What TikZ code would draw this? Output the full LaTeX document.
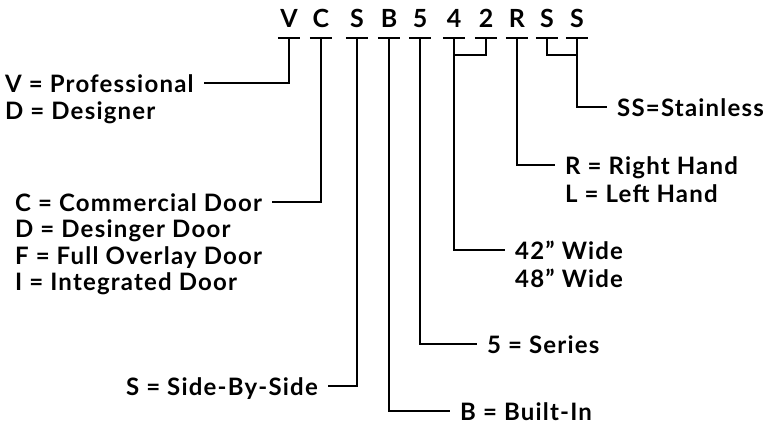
\documentclass[tikz,border=0pt]{standalone}
\usepackage{fontspec}
\setmainfont{Lato}
\newfontfamily\lblfont[LetterSpace=5]{Lato}
\usetikzlibrary{positioning}

\begin{document}
\begin{tikzpicture}[x=1pt,y=-1pt]
\tikzstyle{code}=[anchor=south, inner sep=0pt, minimum width=22pt, text height=18pt, text depth=10pt, font=\bfseries\fontsize{25}{30}\selectfont]
\tikzstyle{lbl}=[inner xsep=10pt, inner ysep=0pt, text height=18pt, text depth=0pt, font=\lblfont\bfseries\fontsize{24}{29}\selectfont]
\tikzstyle{wire}=[line width=2.2pt]
\useasboundingbox (0,0) rectangle (767,424);
% model code letters
\node[code] (v) at (289,38) {V};
\node[code] (c) at (321,38) {C};
\node[code] (s) at (357,38) {S};
\node[code] (b) at (389,38) {B};
\node[code] (five) at (420,38) {5};
\node[code] (four) at (454,38) {4};
\node[code] (two) at (486,38) {2};
\node[code] (r) at (517,38) {R};
\node[code] (sa) at (547,38) {S};
\node[code] (sb) at (577,38) {S};
% labels
\node[lbl,anchor=west] (pro) at (-5,83) {V = Professional};
\node[lbl,below=27pt of pro.west,anchor=west] (des) {D = Designer};
\node[lbl,anchor=west] (com) at (5,202) {C = Commercial Door};
\node[lbl,below=26.5pt of com.west,anchor=west] (ddoor) {D = Desinger Door};
\node[lbl,below=26.5pt of ddoor.west,anchor=west] (fdoor) {F = Full Overlay Door};
\node[lbl,below=26.5pt of fdoor.west,anchor=west] (idoor) {I = Integrated Door};
\node[lbl,anchor=east] (sbs) at (328,386) {S = Side-By-Side};
\node[lbl,anchor=west] (bin) at (450,411) {B = Built-In};
\node[lbl,anchor=west] (ser) at (477,344) {5 = Series};
\node[lbl,anchor=west] (w42) at (505,250) {42” Wide};
\node[lbl,below=28pt of w42.west,anchor=west] (w48) {48” Wide};
\node[lbl,anchor=west] (rh) at (555,165) {R = Right Hand};
\node[lbl,below=28pt of rh.west,anchor=west] (lh) {L = Left Hand};
\node[lbl,anchor=west] (sst) at (607,107) {SS=Stainless};
% bars under the letters
\draw[wire] (v.south west) -- (v.south east);
\draw[wire] (c.south west) -- (c.south east);
\draw[wire] (s.south west) -- (s.south east);
\draw[wire] (b.south west) -- (b.south east);
\draw[wire] (five.south west) -- (five.south east);
\draw[wire] (four.south west) -- (four.south east);
\draw[wire] (two.south west) -- (two.south east);
\draw[wire] (r.south west) -- (r.south east);
\draw[wire] (sa.south west) -- (sa.south east);
\draw[wire] (sb.south west) -- (sb.south east);
% leaders
\draw[wire] (v.south) |- (pro.east);
\draw[wire] (c.south) |- (com.east);
\draw[wire] (s.south) |- (sbs.east);
\draw[wire] (b.south) |- (bin.west);
\draw[wire] (five.south) |- (ser.west);
\draw[wire] (four.south) |- (w42.west);
\draw[wire] (two.south) |- (four.south |- 0,55);
\draw[wire] (r.south) |- (rh.west);
\draw[wire] (sa.south) |- (sb.south |- 0,55);
\draw[wire] (sb.south) |- (sst.west);
\end{tikzpicture}
\end{document}
